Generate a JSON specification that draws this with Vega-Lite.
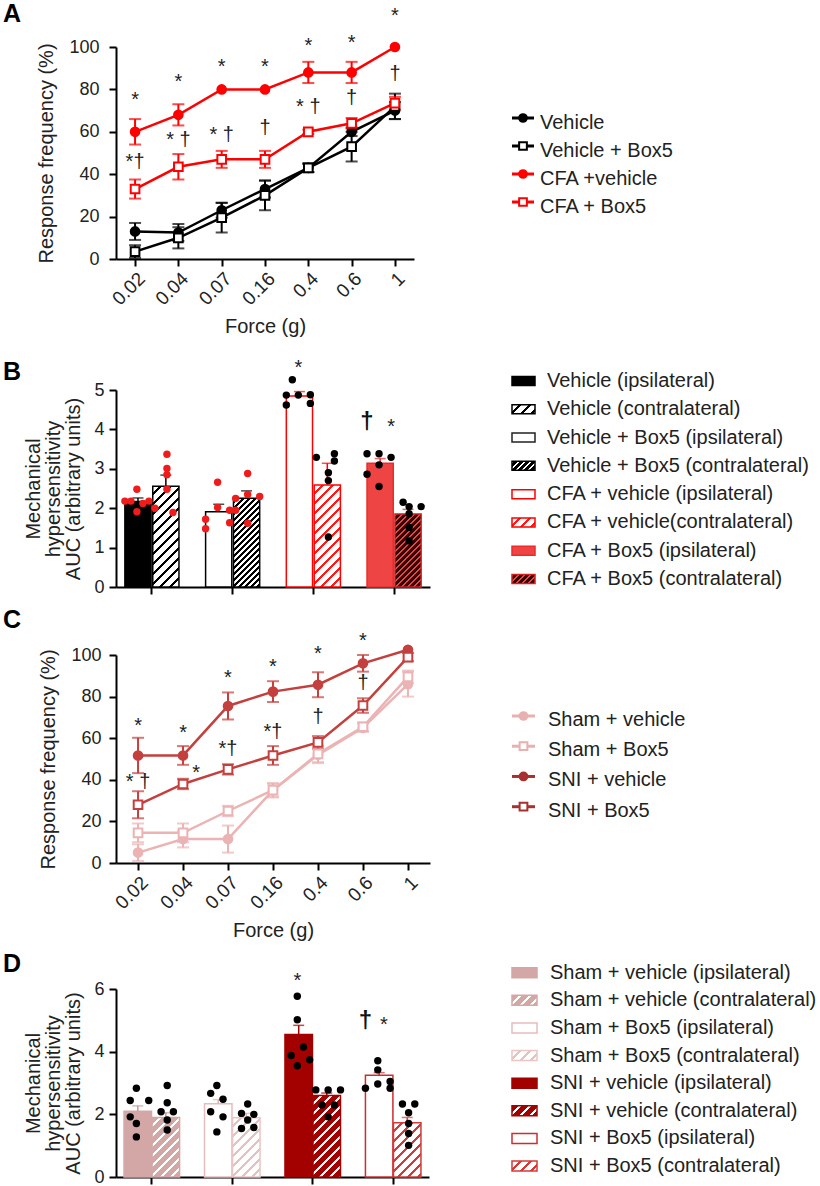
{
"$schema": "https://vega.github.io/schema/vega-lite/v6.json",
"background": "white",
"padding": {"left": 3, "top": 2, "right": 2, "bottom": 0},
"config": {
  "font": "Liberation Sans",
  "view": {"stroke": null},
  "axis": {"grid": false, "domainColor": "#000", "domainWidth": 2, "tickColor": "#000", "tickWidth": 2, "tickSize": 7, "labelFontSize": 18, "labelColor": "#222", "titleFontSize": 20, "titleFontWeight": "normal", "titleColor": "#222"},
  "title": {"fontSize": 25, "fontWeight": "bold", "color": "#000", "anchor": "start", "frame": "group", "offset": 0, "baseline": "alphabetic"}
},
"datasets": {
  "a_series": [
    {"series":"Vehicle","force":"0.02","mean":13,"lo":9,"hi":17},
    {"series":"Vehicle","force":"0.04","mean":12.5,"lo":8.5,"hi":16.5},
    {"series":"Vehicle","force":"0.07","mean":23,"lo":19.5,"hi":26.5},
    {"series":"Vehicle","force":"0.16","mean":33,"lo":29,"hi":37},
    {"series":"Vehicle","force":"0.4","mean":43,"lo":41,"hi":45},
    {"series":"Vehicle","force":"0.6","mean":60,"lo":58,"hi":62},
    {"series":"Vehicle","force":"1","mean":70,"lo":66,"hi":74},
    {"series":"Vehicle + Box5","force":"0.02","mean":3.5,"lo":0.5,"hi":6.5},
    {"series":"Vehicle + Box5","force":"0.04","mean":10,"lo":5,"hi":15},
    {"series":"Vehicle + Box5","force":"0.07","mean":19.5,"lo":12.5,"hi":26.5},
    {"series":"Vehicle + Box5","force":"0.16","mean":30,"lo":23,"hi":37},
    {"series":"Vehicle + Box5","force":"0.4","mean":43,"lo":41,"hi":45},
    {"series":"Vehicle + Box5","force":"0.6","mean":53,"lo":46,"hi":60},
    {"series":"Vehicle + Box5","force":"1","mean":72,"lo":66,"hi":78},
    {"series":"CFA +vehicle","force":"0.02","mean":60,"lo":54,"hi":66},
    {"series":"CFA +vehicle","force":"0.04","mean":68,"lo":63,"hi":73},
    {"series":"CFA +vehicle","force":"0.07","mean":80,"lo":null,"hi":null},
    {"series":"CFA +vehicle","force":"0.16","mean":80,"lo":null,"hi":null},
    {"series":"CFA +vehicle","force":"0.4","mean":88,"lo":83,"hi":93},
    {"series":"CFA +vehicle","force":"0.6","mean":88,"lo":83,"hi":93},
    {"series":"CFA +vehicle","force":"1","mean":100,"lo":null,"hi":null},
    {"series":"CFA + Box5","force":"0.02","mean":33,"lo":28.5,"hi":37.5},
    {"series":"CFA + Box5","force":"0.04","mean":43.5,"lo":37.5,"hi":49.5},
    {"series":"CFA + Box5","force":"0.07","mean":47,"lo":43,"hi":51},
    {"series":"CFA + Box5","force":"0.16","mean":47,"lo":43,"hi":51},
    {"series":"CFA + Box5","force":"0.4","mean":60,"lo":59,"hi":61},
    {"series":"CFA + Box5","force":"0.6","mean":64,"lo":61.5,"hi":66.5},
    {"series":"CFA + Box5","force":"1","mean":73.5,"lo":70.5,"hi":76.5}
  ],
  "a_notes": [
    {"force":"0.02","v":74.8,"label":"*"},
    {"force":"0.04","v":83.7,"label":"*"},
    {"force":"0.07","v":90.8,"label":"*"},
    {"force":"0.16","v":90.8,"label":"*"},
    {"force":"0.4","v":100.4,"label":"*"},
    {"force":"0.6","v":102.1,"label":"*"},
    {"force":"1","v":114.4,"label":"*"},
    {"force":"1","v":87.3,"label":"†"},
    {"force":"0.02","v":45.8,"label":"*†"},
    {"force":"0.04","v":56.1,"label":"* †"},
    {"force":"0.07","v":58.5,"label":"* †"},
    {"force":"0.16","v":61.6,"label":"†"},
    {"force":"0.4","v":71.8,"label":"* †"},
    {"force":"0.6","v":75.8,"label":"†"}
  ],
  "c_series": [
    {"series":"Sham + vehicle","force":"0.02","mean":5,"lo":1,"hi":9},
    {"series":"Sham + vehicle","force":"0.04","mean":11.5,"lo":7.5,"hi":15.5},
    {"series":"Sham + vehicle","force":"0.07","mean":11.5,"lo":5,"hi":18},
    {"series":"Sham + vehicle","force":"0.16","mean":35,"lo":32,"hi":38},
    {"series":"Sham + vehicle","force":"0.4","mean":52,"lo":48,"hi":56},
    {"series":"Sham + vehicle","force":"0.6","mean":65,"lo":63,"hi":67},
    {"series":"Sham + vehicle","force":"1","mean":86,"lo":80,"hi":92},
    {"series":"Sham + Box5","force":"0.02","mean":14.5,"lo":10,"hi":19},
    {"series":"Sham + Box5","force":"0.04","mean":14.5,"lo":10,"hi":19},
    {"series":"Sham + Box5","force":"0.07","mean":25,"lo":22.5,"hi":27.5},
    {"series":"Sham + Box5","force":"0.16","mean":35,"lo":31.5,"hi":38.5},
    {"series":"Sham + Box5","force":"0.4","mean":52.5,"lo":48.5,"hi":56.5},
    {"series":"Sham + Box5","force":"0.6","mean":65.5,"lo":63.5,"hi":67.5},
    {"series":"Sham + Box5","force":"1","mean":89.5,"lo":86.5,"hi":92.5},
    {"series":"SNI + vehicle","force":"0.02","mean":51.7,"lo":43.2,"hi":60.2},
    {"series":"SNI + vehicle","force":"0.04","mean":51.7,"lo":47.2,"hi":56.2},
    {"series":"SNI + vehicle","force":"0.07","mean":75.5,"lo":69,"hi":82},
    {"series":"SNI + vehicle","force":"0.16","mean":82.4,"lo":77.4,"hi":87.4},
    {"series":"SNI + vehicle","force":"0.4","mean":85.7,"lo":79.7,"hi":91.7},
    {"series":"SNI + vehicle","force":"0.6","mean":96,"lo":92,"hi":100},
    {"series":"SNI + vehicle","force":"1","mean":102.5,"lo":null,"hi":null},
    {"series":"SNI + Box5","force":"0.02","mean":28,"lo":21.5,"hi":34.5},
    {"series":"SNI + Box5","force":"0.04","mean":38,"lo":35.5,"hi":40.5},
    {"series":"SNI + Box5","force":"0.07","mean":45,"lo":42.5,"hi":47.5},
    {"series":"SNI + Box5","force":"0.16","mean":51.7,"lo":47.2,"hi":56.2},
    {"series":"SNI + Box5","force":"0.4","mean":58,"lo":55,"hi":61},
    {"series":"SNI + Box5","force":"0.6","mean":75.7,"lo":72.2,"hi":79.2},
    {"series":"SNI + Box5","force":"1","mean":99,"lo":97,"hi":101}
  ],
  "c_notes": [
    {"force":"0.02","v":66,"label":"*"},
    {"force":"0.04","v":62.5,"label":"*"},
    {"force":"0.07","v":89,"label":"*"},
    {"force":"0.16","v":94.1,"label":"*"},
    {"force":"0.4","v":100.5,"label":"*"},
    {"force":"0.6","v":106.5,"label":"*"},
    {"force":"0.02","v":38.9,"label":"* †"},
    {"force":"0.07","v":55,"label":"*†"},
    {"force":"0.16","v":63,"label":"*†"},
    {"force":"0.4","v":70.3,"label":"†"},
    {"force":"0.6","v":86.4,"label":"†"}
  ],
  "b_bars": [
    {"grp":"Vehicle","side":"ipsilateral","bar":"Vehicle (ipsilateral)","mean":2.17,"upper":2.26},
    {"grp":"Vehicle","side":"contralateral","bar":"Vehicle (contralateral)","mean":2.56,"upper":2.84},
    {"grp":"Vehicle + Box5","side":"ipsilateral","bar":"Vehicle + Box5 (ipsilateral)","mean":1.91,"upper":2.1},
    {"grp":"Vehicle + Box5","side":"contralateral","bar":"Vehicle + Box5 (contralateral)","mean":2.25,"upper":2.44},
    {"grp":"CFA + vehicle","side":"ipsilateral","bar":"CFA + vehicle (ipsilateral)","mean":4.85,"upper":4.96},
    {"grp":"CFA + vehicle","side":"contralateral","bar":"CFA + vehicle(contralateral)","mean":2.59,"upper":3.14},
    {"grp":"CFA + Box5","side":"ipsilateral","bar":"CFA + Box5 (ipsilateral)","mean":3.14,"upper":3.26},
    {"grp":"CFA + Box5","side":"contralateral","bar":"CFA + Box5 (contralateral)","mean":1.85,"upper":1.97}
  ],
  "b_dots": [
    {"grp":"Vehicle","slot":"i3","v":2.48},{"grp":"Vehicle","slot":"i1","v":2.18},{"grp":"Vehicle","slot":"i2","v":2.18},
    {"grp":"Vehicle","slot":"i5","v":2.18},{"grp":"Vehicle","slot":"i4","v":2.12},{"grp":"Vehicle","slot":"i3","v":1.91},
    {"grp":"Vehicle","slot":"c3","v":3.37},{"grp":"Vehicle","slot":"c3","v":3.01},{"grp":"Vehicle","slot":"c3","v":2.85},
    {"grp":"Vehicle","slot":"c3","v":2.48},{"grp":"Vehicle","slot":"c1","v":2.0},{"grp":"Vehicle","slot":"c4","v":1.89},
    {"grp":"Vehicle + Box5","slot":"i3","v":2.66},{"grp":"Vehicle + Box5","slot":"i5","v":1.95},{"grp":"Vehicle + Box5","slot":"i1","v":1.72},
    {"grp":"Vehicle + Box5","slot":"i5","v":1.63},{"grp":"Vehicle + Box5","slot":"i1","v":1.48},{"grp":"Vehicle + Box5","slot":"i3","v":2.02},
    {"grp":"Vehicle + Box5","slot":"c3","v":2.88},{"grp":"Vehicle + Box5","slot":"c5","v":2.3},{"grp":"Vehicle + Box5","slot":"c1","v":2.25},
    {"grp":"Vehicle + Box5","slot":"c1","v":1.95},{"grp":"Vehicle + Box5","slot":"c3","v":1.62},{"grp":"Vehicle + Box5","slot":"c3","v":2.35},
    {"grp":"CFA + vehicle","slot":"i2","v":5.26},{"grp":"CFA + vehicle","slot":"i1","v":4.87},{"grp":"CFA + vehicle","slot":"i3","v":4.87},
    {"grp":"CFA + vehicle","slot":"i5","v":4.88},{"grp":"CFA + vehicle","slot":"i1","v":4.62},{"grp":"CFA + vehicle","slot":"i5","v":4.66},
    {"grp":"CFA + vehicle","slot":"c1","v":3.29},{"grp":"CFA + vehicle","slot":"c4","v":3.38},{"grp":"CFA + vehicle","slot":"c4","v":3.2},
    {"grp":"CFA + vehicle","slot":"c3","v":2.9},{"grp":"CFA + vehicle","slot":"c3","v":2.7},{"grp":"CFA + vehicle","slot":"c3","v":1.27},
    {"grp":"CFA + Box5","slot":"i1","v":3.38},{"grp":"CFA + Box5","slot":"i3","v":3.38},{"grp":"CFA + Box5","slot":"i5","v":3.29},
    {"grp":"CFA + Box5","slot":"i3","v":3.1},{"grp":"CFA + Box5","slot":"i1","v":2.86},{"grp":"CFA + Box5","slot":"i3","v":2.55},
    {"grp":"CFA + Box5","slot":"c2","v":2.15},{"grp":"CFA + Box5","slot":"c3","v":2.04},{"grp":"CFA + Box5","slot":"c5","v":2.04},
    {"grp":"CFA + Box5","slot":"c3","v":1.86},{"grp":"CFA + Box5","slot":"c3","v":1.51},{"grp":"CFA + Box5","slot":"c3","v":1.17}
  ],
  "b_notes": [
    {"grp":"CFA + vehicle","slot":"i3","v":5.57,"label":"*"},
    {"grp":"CFA + Box5","slot":"i5","v":4.07,"label":"*"},
    {"grp":"CFA + Box5","slot":"i1","v":4.18,"label":"†"}
  ],
  "d_bars": [
    {"grp":"Sham + vehicle","side":"ipsilateral","bar":"Sham + vehicle (ipsilateral)","mean":2.1,"upper":2.27},
    {"grp":"Sham + vehicle","side":"contralateral","bar":"Sham + vehicle (contralateral)","mean":1.9,"upper":2.05},
    {"grp":"Sham + Box5","side":"ipsilateral","bar":"Sham + Box5 (ipsilateral)","mean":2.34,"upper":2.47},
    {"grp":"Sham + Box5","side":"contralateral","bar":"Sham + Box5 (contralateral)","mean":1.89,"upper":2.03},
    {"grp":"SNI + vehicle","side":"ipsilateral","bar":"SNI + vehicle (ipsilateral)","mean":4.55,"upper":4.84},
    {"grp":"SNI + vehicle","side":"contralateral","bar":"SNI + vehicle (contralateral)","mean":2.6,"upper":2.68},
    {"grp":"SNI + Box5","side":"ipsilateral","bar":"SNI + Box5 (ipsilateral)","mean":3.25,"upper":3.33},
    {"grp":"SNI + Box5","side":"contralateral","bar":"SNI + Box5 (contralateral)","mean":1.73,"upper":1.9}
  ],
  "d_dots": [
    {"grp":"Sham + vehicle","slot":"i3","v":2.83},{"grp":"Sham + vehicle","slot":"i2","v":2.44},{"grp":"Sham + vehicle","slot":"i5","v":2.44},
    {"grp":"Sham + vehicle","slot":"i2","v":1.92},{"grp":"Sham + vehicle","slot":"i3","v":1.71},{"grp":"Sham + vehicle","slot":"i3","v":1.28},
    {"grp":"Sham + vehicle","slot":"c3","v":2.92},{"grp":"Sham + vehicle","slot":"c3","v":2.37},{"grp":"Sham + vehicle","slot":"c2","v":2.08},
    {"grp":"Sham + vehicle","slot":"c4","v":2.08},{"grp":"Sham + vehicle","slot":"c3","v":1.82},{"grp":"Sham + vehicle","slot":"c3","v":1.5},
    {"grp":"Sham + Box5","slot":"i3","v":2.92},{"grp":"Sham + Box5","slot":"i2","v":2.67},{"grp":"Sham + Box5","slot":"i4","v":2.48},
    {"grp":"Sham + Box5","slot":"i2","v":2.08},{"grp":"Sham + Box5","slot":"i4","v":1.92},{"grp":"Sham + Box5","slot":"i3","v":1.44},
    {"grp":"Sham + Box5","slot":"c3","v":2.33},{"grp":"Sham + Box5","slot":"c2","v":2.03},{"grp":"Sham + Box5","slot":"c4","v":2.0},
    {"grp":"Sham + Box5","slot":"c3","v":1.82},{"grp":"Sham + Box5","slot":"c2","v":1.55},{"grp":"Sham + Box5","slot":"c4","v":1.58},
    {"grp":"SNI + vehicle","slot":"i3","v":5.77},{"grp":"SNI + vehicle","slot":"i3","v":5.02},{"grp":"SNI + vehicle","slot":"i4","v":4.15},
    {"grp":"SNI + vehicle","slot":"i2","v":3.88},{"grp":"SNI + vehicle","slot":"i5","v":3.74},{"grp":"SNI + vehicle","slot":"i3","v":3.55},
    {"grp":"SNI + vehicle","slot":"c1","v":2.78},{"grp":"SNI + vehicle","slot":"c3","v":2.78},{"grp":"SNI + vehicle","slot":"c5","v":2.78},
    {"grp":"SNI + vehicle","slot":"c2","v":2.3},{"grp":"SNI + vehicle","slot":"c4","v":2.3},{"grp":"SNI + vehicle","slot":"c3","v":1.92},
    {"grp":"SNI + Box5","slot":"i3","v":3.71},{"grp":"SNI + Box5","slot":"i3","v":3.42},{"grp":"SNI + Box5","slot":"i3","v":2.97},
    {"grp":"SNI + Box5","slot":"i1","v":2.83},{"grp":"SNI + Box5","slot":"i5","v":2.83},{"grp":"SNI + Box5","slot":"i5","v":3.05},
    {"grp":"SNI + Box5","slot":"c2","v":2.33},{"grp":"SNI + Box5","slot":"c4","v":2.33},{"grp":"SNI + Box5","slot":"c3","v":2.05},
    {"grp":"SNI + Box5","slot":"c3","v":1.71},{"grp":"SNI + Box5","slot":"c3","v":1.39},{"grp":"SNI + Box5","slot":"c3","v":1.01}
  ],
  "d_notes": [
    {"grp":"SNI + vehicle","slot":"i3","v":6.26,"label":"*"},
    {"grp":"SNI + Box5","slot":"i4","v":4.85,"label":"*"},
    {"grp":"SNI + Box5","slot":"i1","v":4.97,"label":"†"}
  ],
  "leg_a": [{"label":" Vehicle"},{"label":" Vehicle + Box5"},{"label":"CFA +vehicle"},{"label":"CFA + Box5"}],
  "leg_b": [{"label":"Vehicle (ipsilateral)"},{"label":"Vehicle (contralateral)"},{"label":"Vehicle + Box5 (ipsilateral)"},{"label":"Vehicle + Box5 (contralateral)"},{"label":"CFA + vehicle (ipsilateral)"},{"label":"CFA + vehicle(contralateral)"},{"label":"CFA + Box5 (ipsilateral)"},{"label":"CFA + Box5 (contralateral)"}],
  "leg_c": [{"label":"Sham + vehicle"},{"label":"Sham + Box5"},{"label":"SNI + vehicle"},{"label":"SNI + Box5"}],
  "leg_d": [{"label":"Sham + vehicle (ipsilateral)"},{"label":"Sham + vehicle (contralateral)"},{"label":"Sham + Box5 (ipsilateral)"},{"label":"Sham + Box5 (contralateral)"},{"label":"SNI + vehicle (ipsilateral)"},{"label":"SNI + vehicle (contralateral)"},{"label":"SNI + Box5 (ipsilateral)"},{"label":"SNI + Box5 (contralateral)"}]
},
"concat": [
  {
    "title": {"text": "A", "dx": -113, "dy": 25},
    "width": 298, "height": 212,
    "encoding": {"x": {"field": "force", "type": "ordinal", "sort": ["0.02","0.04","0.07","0.16","0.4","0.6","1"], "scale": {"type": "point", "padding": 0.44}, "axis": {"title": "Force (g)", "labelAngle": -45, "labelFontSize": 19, "labelPadding": 3, "titlePadding": 8}}},
    "layer": [
      {"data": {"name": "a_series"}, "mark": {"type": "rule", "strokeWidth": 2},
       "encoding": {"y": {"field": "lo", "type": "quantitative", "scale": {"domain": [0, 100], "nice": false}, "axis": {"title": "Response frequency (%)", "values": [0,20,40,60,80,100], "labelPadding": 10, "titlePadding": 12}}, "y2": {"field": "hi"},
         "color": {"field": "series", "type": "nominal", "scale": {"domain": ["Vehicle","Vehicle + Box5","CFA +vehicle","CFA + Box5"], "range": ["#000","#000","#ff0000","#ff0000"]}, "legend": null}}},
      {"data": {"name": "a_series"}, "mark": {"type": "tick", "thickness": 2, "size": 12},
       "encoding": {"y": {"field": "lo", "type": "quantitative", "scale": {"domain": [0, 100], "nice": false}, "axis": {"title": "Response frequency (%)", "values": [0,20,40,60,80,100], "labelPadding": 10, "titlePadding": 12}},
         "color": {"field": "series", "type": "nominal", "scale": {"domain": ["Vehicle","Vehicle + Box5","CFA +vehicle","CFA + Box5"], "range": ["#000","#000","#ff0000","#ff0000"]}, "legend": null}}},
      {"data": {"name": "a_series"}, "mark": {"type": "tick", "thickness": 2, "size": 12},
       "encoding": {"y": {"field": "hi", "type": "quantitative", "scale": {"domain": [0, 100], "nice": false}, "axis": {"title": "Response frequency (%)", "values": [0,20,40,60,80,100], "labelPadding": 10, "titlePadding": 12}},
         "color": {"field": "series", "type": "nominal", "scale": {"domain": ["Vehicle","Vehicle + Box5","CFA +vehicle","CFA + Box5"], "range": ["#000","#000","#ff0000","#ff0000"]}, "legend": null}}},
      {"data": {"name": "a_series"}, "mark": {"type": "line", "strokeWidth": 2.5},
       "encoding": {"y": {"field": "mean", "type": "quantitative", "scale": {"domain": [0, 100], "nice": false}, "axis": {"title": "Response frequency (%)", "values": [0,20,40,60,80,100], "labelPadding": 10, "titlePadding": 12}},
         "color": {"field": "series", "type": "nominal", "scale": {"domain": ["Vehicle","Vehicle + Box5","CFA +vehicle","CFA + Box5"], "range": ["#000","#000","#ff0000","#ff0000"]}, "legend": null}}},
      {"data": {"name": "a_series"}, "mark": {"type": "point", "filled": true, "size": 75, "strokeWidth": 2, "opacity": 1},
       "encoding": {"y": {"field": "mean", "type": "quantitative", "scale": {"domain": [0, 100], "nice": false}, "axis": {"title": "Response frequency (%)", "values": [0,20,40,60,80,100], "labelPadding": 10, "titlePadding": 12}},
         "shape": {"field": "series", "type": "nominal", "scale": {"domain": ["Vehicle","Vehicle + Box5","CFA +vehicle","CFA + Box5"], "range": ["circle","square","circle","square"]}, "legend": null},
         "fill": {"field": "series", "type": "nominal", "scale": {"domain": ["Vehicle","Vehicle + Box5","CFA +vehicle","CFA + Box5"], "range": ["#000","#fff","#ff0000","#fff"]}, "legend": null},
         "stroke": {"field": "series", "type": "nominal", "scale": {"domain": ["Vehicle","Vehicle + Box5","CFA +vehicle","CFA + Box5"], "range": ["#000","#000","#ff0000","#ff0000"]}, "legend": null}}},
      {"data": {"name": "a_notes"}, "mark": {"type": "text", "fontSize": 20, "baseline": "middle", "color": "#222"},
       "encoding": {"y": {"field": "v", "type": "quantitative", "scale": {"domain": [0, 100], "nice": false}, "axis": {"title": "Response frequency (%)", "values": [0,20,40,60,80,100], "labelPadding": 10, "titlePadding": 12}}, "text": {"field": "label"}}}
    ]
  },
  {
    "width": 300, "height": 275,
    "data": {"name": "leg_a"},
    "encoding": {"y": {"field": "label", "type": "nominal", "sort": null, "scale": {"type": "point", "range": [71, 155], "padding": 0}, "axis": null}},
    "layer": [
      {"mark": {"type": "rule", "strokeWidth": 3},
       "encoding": {"x": {"datum": 0, "type": "quantitative", "scale": {"domain": [0, 300]}, "axis": null}, "x2": {"datum": 22},
         "color": {"field": "label", "type": "nominal", "scale": {"domain": [" Vehicle"," Vehicle + Box5","CFA +vehicle","CFA + Box5"], "range": ["#000","#000","#ff0000","#ff0000"]}, "legend": null}}},
      {"mark": {"type": "point", "filled": true, "size": 60, "strokeWidth": 2, "opacity": 1},
       "encoding": {"x": {"datum": 11, "type": "quantitative"},
         "shape": {"field": "label", "type": "nominal", "scale": {"domain": [" Vehicle"," Vehicle + Box5","CFA +vehicle","CFA + Box5"], "range": ["circle","square","circle","square"]}, "legend": null},
         "fill": {"field": "label", "type": "nominal", "scale": {"domain": [" Vehicle"," Vehicle + Box5","CFA +vehicle","CFA + Box5"], "range": ["#000","#fff","#ff0000","#fff"]}, "legend": null},
         "stroke": {"field": "label", "type": "nominal", "scale": {"domain": [" Vehicle"," Vehicle + Box5","CFA +vehicle","CFA + Box5"], "range": ["#000","#000","#ff0000","#ff0000"]}, "legend": null}}},
      {"mark": {"type": "text", "align": "left", "baseline": "middle", "fontSize": 20, "color": "#222", "dy": 5},
       "encoding": {"x": {"datum": 28, "type": "quantitative"}, "text": {"field": "label"}}}
    ]
  },
  {
    "title": {"text": "B", "dx": -113, "dy": 31},
    "width": 314, "height": 197,
    "encoding": {"x": {"field": "grp", "type": "nominal", "sort": ["Vehicle","Vehicle + Box5","CFA + vehicle","CFA + Box5"], "scale": {"paddingInner": 0.33, "paddingOuter": 0.11}, "axis": {"title": null, "labels": false}}},
    "resolve": {"scale": {"xOffset": "independent"}},
    "layer": [
      {"data": {"name": "b_bars"}, "mark": {"type": "bar", "strokeWidth": 1.5},
       "encoding": {
         "xOffset": {"field": "side", "type": "nominal", "sort": ["ipsilateral","contralateral"], "scale": {"paddingInner": 0.06, "paddingOuter": 0}},
         "y": {"field": "mean", "type": "quantitative", "stack": null, "scale": {"domain": [0, 5], "nice": false}, "axis": {"title": ["Mechanical","hypersensitivity","AUC (arbitrary units)"], "values": [0,1,2,3,4,5], "tickCount": 6, "labelOverlap": false, "titleLineHeight": 20, "labelPadding": 5, "titlePadding": 10}},
         "fill": {"field": "bar", "type": "nominal", "legend": null,
           "scale": {"domain": ["Vehicle (ipsilateral)","Vehicle (contralateral)","Vehicle + Box5 (ipsilateral)","Vehicle + Box5 (contralateral)","CFA + vehicle (ipsilateral)","CFA + vehicle(contralateral)","CFA + Box5 (ipsilateral)","CFA + Box5 (contralateral)"], "range": ["#000","#fff","#fff","#555","#fff","#fff","#ef4444","#b03030"]},
           "condition": [
             {"test": "datum.bar === 'Vehicle (contralateral)'", "value": {"gradient": "linear", "x1": 0, "y1": 0, "x2": 0.482, "y2": 1.857, "stops": [{"offset":0,"color":"#fff"},{"offset":0.035,"color":"#fff"},{"offset":0.035,"color":"#000"},{"offset":0.05,"color":"#000"},{"offset":0.05,"color":"#fff"},{"offset":0.085,"color":"#fff"},{"offset":0.085,"color":"#000"},{"offset":0.1,"color":"#000"},{"offset":0.1,"color":"#fff"},{"offset":0.135,"color":"#fff"},{"offset":0.135,"color":"#000"},{"offset":0.15,"color":"#000"},{"offset":0.15,"color":"#fff"},{"offset":0.185,"color":"#fff"},{"offset":0.185,"color":"#000"},{"offset":0.2,"color":"#000"},{"offset":0.2,"color":"#fff"},{"offset":0.235,"color":"#fff"},{"offset":0.235,"color":"#000"},{"offset":0.25,"color":"#000"},{"offset":0.25,"color":"#fff"},{"offset":0.285,"color":"#fff"},{"offset":0.285,"color":"#000"},{"offset":0.3,"color":"#000"},{"offset":0.3,"color":"#fff"},{"offset":0.335,"color":"#fff"},{"offset":0.335,"color":"#000"},{"offset":0.35,"color":"#000"},{"offset":0.35,"color":"#fff"},{"offset":0.385,"color":"#fff"},{"offset":0.385,"color":"#000"},{"offset":0.4,"color":"#000"},{"offset":0.4,"color":"#fff"},{"offset":0.435,"color":"#fff"},{"offset":0.435,"color":"#000"},{"offset":0.45,"color":"#000"},{"offset":0.45,"color":"#fff"},{"offset":0.485,"color":"#fff"},{"offset":0.485,"color":"#000"},{"offset":0.5,"color":"#000"},{"offset":0.5,"color":"#fff"},{"offset":0.535,"color":"#fff"},{"offset":0.535,"color":"#000"},{"offset":0.55,"color":"#000"},{"offset":0.55,"color":"#fff"},{"offset":0.585,"color":"#fff"},{"offset":0.585,"color":"#000"},{"offset":0.6,"color":"#000"},{"offset":0.6,"color":"#fff"},{"offset":0.635,"color":"#fff"},{"offset":0.635,"color":"#000"},{"offset":0.65,"color":"#000"},{"offset":0.65,"color":"#fff"},{"offset":1,"color":"#fff"}]}},
             {"test": "datum.bar === 'Vehicle + Box5 (contralateral)'", "value": {"gradient": "linear", "x1": 0, "y1": 0, "x2": 0.368, "y2": 1.245, "stops": [{"offset":0,"color":"#fff"},{"offset":0.02,"color":"#fff"},{"offset":0.02,"color":"#000"},{"offset":0.05,"color":"#000"},{"offset":0.05,"color":"#fff"},{"offset":0.07,"color":"#fff"},{"offset":0.07,"color":"#000"},{"offset":0.1,"color":"#000"},{"offset":0.1,"color":"#fff"},{"offset":0.12,"color":"#fff"},{"offset":0.12,"color":"#000"},{"offset":0.15,"color":"#000"},{"offset":0.15,"color":"#fff"},{"offset":0.17,"color":"#fff"},{"offset":0.17,"color":"#000"},{"offset":0.2,"color":"#000"},{"offset":0.2,"color":"#fff"},{"offset":0.22,"color":"#fff"},{"offset":0.22,"color":"#000"},{"offset":0.25,"color":"#000"},{"offset":0.25,"color":"#fff"},{"offset":0.27,"color":"#fff"},{"offset":0.27,"color":"#000"},{"offset":0.3,"color":"#000"},{"offset":0.3,"color":"#fff"},{"offset":0.32,"color":"#fff"},{"offset":0.32,"color":"#000"},{"offset":0.35,"color":"#000"},{"offset":0.35,"color":"#fff"},{"offset":0.37,"color":"#fff"},{"offset":0.37,"color":"#000"},{"offset":0.4,"color":"#000"},{"offset":0.4,"color":"#fff"},{"offset":0.42,"color":"#fff"},{"offset":0.42,"color":"#000"},{"offset":0.45,"color":"#000"},{"offset":0.45,"color":"#fff"},{"offset":0.47,"color":"#fff"},{"offset":0.47,"color":"#000"},{"offset":0.5,"color":"#000"},{"offset":0.5,"color":"#fff"},{"offset":0.52,"color":"#fff"},{"offset":0.52,"color":"#000"},{"offset":0.55,"color":"#000"},{"offset":0.55,"color":"#fff"},{"offset":0.57,"color":"#fff"},{"offset":0.57,"color":"#000"},{"offset":0.6,"color":"#000"},{"offset":0.6,"color":"#fff"},{"offset":0.62,"color":"#fff"},{"offset":0.62,"color":"#000"},{"offset":0.65,"color":"#000"},{"offset":0.65,"color":"#fff"},{"offset":0.67,"color":"#fff"},{"offset":0.67,"color":"#000"},{"offset":0.7,"color":"#000"},{"offset":0.7,"color":"#fff"},{"offset":0.72,"color":"#fff"},{"offset":0.72,"color":"#000"},{"offset":0.75,"color":"#000"},{"offset":0.75,"color":"#fff"},{"offset":0.77,"color":"#fff"},{"offset":0.77,"color":"#000"},{"offset":0.8,"color":"#000"},{"offset":0.8,"color":"#fff"},{"offset":0.82,"color":"#fff"},{"offset":0.82,"color":"#000"},{"offset":0.85,"color":"#000"},{"offset":0.85,"color":"#fff"},{"offset":0.87,"color":"#fff"},{"offset":0.87,"color":"#000"},{"offset":0.9,"color":"#000"},{"offset":0.9,"color":"#fff"},{"offset":0.92,"color":"#fff"},{"offset":0.92,"color":"#000"},{"offset":0.95,"color":"#000"},{"offset":0.95,"color":"#fff"},{"offset":0.97,"color":"#fff"},{"offset":0.97,"color":"#000"},{"offset":1,"color":"#000"}]}},
             {"test": "datum.bar === 'CFA + vehicle(contralateral)'", "value": {"gradient": "linear", "x1": 0, "y1": 0, "x2": 0.4725, "y2": 1.8395, "stops": [{"offset":0,"color":"#fff"},{"offset":0.035,"color":"#fff"},{"offset":0.035,"color":"#ff1a1a"},{"offset":0.05,"color":"#ff1a1a"},{"offset":0.05,"color":"#fff"},{"offset":0.085,"color":"#fff"},{"offset":0.085,"color":"#ff1a1a"},{"offset":0.1,"color":"#ff1a1a"},{"offset":0.1,"color":"#fff"},{"offset":0.135,"color":"#fff"},{"offset":0.135,"color":"#ff1a1a"},{"offset":0.15,"color":"#ff1a1a"},{"offset":0.15,"color":"#fff"},{"offset":0.185,"color":"#fff"},{"offset":0.185,"color":"#ff1a1a"},{"offset":0.2,"color":"#ff1a1a"},{"offset":0.2,"color":"#fff"},{"offset":0.235,"color":"#fff"},{"offset":0.235,"color":"#ff1a1a"},{"offset":0.25,"color":"#ff1a1a"},{"offset":0.25,"color":"#fff"},{"offset":0.285,"color":"#fff"},{"offset":0.285,"color":"#ff1a1a"},{"offset":0.3,"color":"#ff1a1a"},{"offset":0.3,"color":"#fff"},{"offset":0.335,"color":"#fff"},{"offset":0.335,"color":"#ff1a1a"},{"offset":0.35,"color":"#ff1a1a"},{"offset":0.35,"color":"#fff"},{"offset":0.385,"color":"#fff"},{"offset":0.385,"color":"#ff1a1a"},{"offset":0.4,"color":"#ff1a1a"},{"offset":0.4,"color":"#fff"},{"offset":0.435,"color":"#fff"},{"offset":0.435,"color":"#ff1a1a"},{"offset":0.45,"color":"#ff1a1a"},{"offset":0.45,"color":"#fff"},{"offset":0.485,"color":"#fff"},{"offset":0.485,"color":"#ff1a1a"},{"offset":0.5,"color":"#ff1a1a"},{"offset":0.5,"color":"#fff"},{"offset":0.535,"color":"#fff"},{"offset":0.535,"color":"#ff1a1a"},{"offset":0.55,"color":"#ff1a1a"},{"offset":0.55,"color":"#fff"},{"offset":0.585,"color":"#fff"},{"offset":0.585,"color":"#ff1a1a"},{"offset":0.6,"color":"#ff1a1a"},{"offset":0.6,"color":"#fff"},{"offset":0.635,"color":"#fff"},{"offset":0.635,"color":"#ff1a1a"},{"offset":0.65,"color":"#ff1a1a"},{"offset":0.65,"color":"#fff"},{"offset":1,"color":"#fff"}]}},
             {"test": "datum.bar === 'CFA + Box5 (contralateral)'", "value": {"gradient": "linear", "x1": 0, "y1": 0, "x2": 0.524, "y2": 1.458, "stops": [{"offset":0,"color":"#ef4444"},{"offset":0.02,"color":"#ef4444"},{"offset":0.02,"color":"#300"},{"offset":0.05,"color":"#300"},{"offset":0.05,"color":"#ef4444"},{"offset":0.07,"color":"#ef4444"},{"offset":0.07,"color":"#300"},{"offset":0.1,"color":"#300"},{"offset":0.1,"color":"#ef4444"},{"offset":0.12,"color":"#ef4444"},{"offset":0.12,"color":"#300"},{"offset":0.15,"color":"#300"},{"offset":0.15,"color":"#ef4444"},{"offset":0.17,"color":"#ef4444"},{"offset":0.17,"color":"#300"},{"offset":0.2,"color":"#300"},{"offset":0.2,"color":"#ef4444"},{"offset":0.22,"color":"#ef4444"},{"offset":0.22,"color":"#300"},{"offset":0.25,"color":"#300"},{"offset":0.25,"color":"#ef4444"},{"offset":0.27,"color":"#ef4444"},{"offset":0.27,"color":"#300"},{"offset":0.3,"color":"#300"},{"offset":0.3,"color":"#ef4444"},{"offset":0.32,"color":"#ef4444"},{"offset":0.32,"color":"#300"},{"offset":0.35,"color":"#300"},{"offset":0.35,"color":"#ef4444"},{"offset":0.37,"color":"#ef4444"},{"offset":0.37,"color":"#300"},{"offset":0.4,"color":"#300"},{"offset":0.4,"color":"#ef4444"},{"offset":0.42,"color":"#ef4444"},{"offset":0.42,"color":"#300"},{"offset":0.45,"color":"#300"},{"offset":0.45,"color":"#ef4444"},{"offset":0.47,"color":"#ef4444"},{"offset":0.47,"color":"#300"},{"offset":0.5,"color":"#300"},{"offset":0.5,"color":"#ef4444"},{"offset":0.52,"color":"#ef4444"},{"offset":0.52,"color":"#300"},{"offset":0.55,"color":"#300"},{"offset":0.55,"color":"#ef4444"},{"offset":0.57,"color":"#ef4444"},{"offset":0.57,"color":"#300"},{"offset":0.6,"color":"#300"},{"offset":0.6,"color":"#ef4444"},{"offset":0.62,"color":"#ef4444"},{"offset":0.62,"color":"#300"},{"offset":0.65,"color":"#300"},{"offset":0.65,"color":"#ef4444"},{"offset":0.67,"color":"#ef4444"},{"offset":0.67,"color":"#300"},{"offset":0.7,"color":"#300"},{"offset":0.7,"color":"#ef4444"},{"offset":0.72,"color":"#ef4444"},{"offset":0.72,"color":"#300"},{"offset":0.75,"color":"#300"},{"offset":0.75,"color":"#ef4444"},{"offset":0.77,"color":"#ef4444"},{"offset":0.77,"color":"#300"},{"offset":0.8,"color":"#300"},{"offset":0.8,"color":"#ef4444"},{"offset":0.82,"color":"#ef4444"},{"offset":0.82,"color":"#300"},{"offset":0.85,"color":"#300"},{"offset":0.85,"color":"#ef4444"},{"offset":1,"color":"#ef4444"}]}}
           ]},
         "stroke": {"field": "bar", "type": "nominal", "legend": null,
           "scale": {"domain": ["Vehicle (ipsilateral)","Vehicle (contralateral)","Vehicle + Box5 (ipsilateral)","Vehicle + Box5 (contralateral)","CFA + vehicle (ipsilateral)","CFA + vehicle(contralateral)","CFA + Box5 (ipsilateral)","CFA + Box5 (contralateral)"], "range": ["#000","#000","#000","#000","#ff0000","#ff0000","#ee2a2a","#d02020"]}}
       }},
      {"data": {"name": "b_bars"}, "mark": {"type": "rule", "strokeWidth": 1.5},
       "encoding": {
         "xOffset": {"field": "side", "type": "nominal", "sort": ["ipsilateral","contralateral"], "scale": {"paddingInner": 0.06, "paddingOuter": 0}},
         "y": {"field": "mean", "type": "quantitative", "scale": {"domain": [0, 5], "nice": false}, "axis": {"title": ["Mechanical","hypersensitivity","AUC (arbitrary units)"], "values": [0,1,2,3,4,5], "tickCount": 6, "labelOverlap": false, "titleLineHeight": 20, "labelPadding": 5, "titlePadding": 10}}, "y2": {"field": "upper"},
         "color": {"field": "bar", "type": "nominal", "legend": null, "scale": {"domain": ["Vehicle (ipsilateral)","Vehicle (contralateral)","Vehicle + Box5 (ipsilateral)","Vehicle + Box5 (contralateral)","CFA + vehicle (ipsilateral)","CFA + vehicle(contralateral)","CFA + Box5 (ipsilateral)","CFA + Box5 (contralateral)"], "range": ["#000","#000","#000","#000","#ff0000","#ff0000","#ee2a2a","#d02020"]}}}},
      {"data": {"name": "b_bars"}, "mark": {"type": "tick", "thickness": 1.5, "size": 11},
       "encoding": {
         "xOffset": {"field": "side", "type": "nominal", "sort": ["ipsilateral","contralateral"], "scale": {"paddingInner": 0.06, "paddingOuter": 0}},
         "y": {"field": "upper", "type": "quantitative", "scale": {"domain": [0, 5], "nice": false}, "axis": {"title": ["Mechanical","hypersensitivity","AUC (arbitrary units)"], "values": [0,1,2,3,4,5], "tickCount": 6, "labelOverlap": false, "titleLineHeight": 20, "labelPadding": 5, "titlePadding": 10}},
         "color": {"field": "bar", "type": "nominal", "legend": null, "scale": {"domain": ["Vehicle (ipsilateral)","Vehicle (contralateral)","Vehicle + Box5 (ipsilateral)","Vehicle + Box5 (contralateral)","CFA + vehicle (ipsilateral)","CFA + vehicle(contralateral)","CFA + Box5 (ipsilateral)","CFA + Box5 (contralateral)"], "range": ["#000","#000","#000","#000","#ff0000","#ff0000","#ee2a2a","#d02020"]}}}},
      {"data": {"name": "b_dots"}, "mark": {"type": "circle", "size": 55, "opacity": 1},
       "encoding": {
         "xOffset": {"field": "slot", "type": "nominal", "scale": {"domain": ["i1","i2","i3","i4","i5","c1","c2","c3","c4","c5"], "paddingInner": 0, "paddingOuter": 0}},
         "y": {"field": "v", "type": "quantitative", "scale": {"domain": [0, 5], "nice": false}, "axis": {"title": ["Mechanical","hypersensitivity","AUC (arbitrary units)"], "values": [0,1,2,3,4,5], "tickCount": 6, "labelOverlap": false, "titleLineHeight": 20, "labelPadding": 5, "titlePadding": 10}},
         "color": {"condition": {"test": "datum.grp === 'Vehicle' || datum.grp === 'Vehicle + Box5'", "value": "#f01c1c"}, "value": "#000"}}},
      {"data": {"name": "b_notes"}, "transform": [{"filter": "datum.label === '*'"}], "mark": {"type": "text", "fontSize": 20, "baseline": "middle", "color": "#222"},
       "encoding": {
         "xOffset": {"field": "slot", "type": "nominal", "scale": {"domain": ["i1","i2","i3","i4","i5","c1","c2","c3","c4","c5"], "paddingInner": 0, "paddingOuter": 0}},
         "y": {"field": "v", "type": "quantitative", "scale": {"domain": [0, 5], "nice": false}, "axis": {"title": ["Mechanical","hypersensitivity","AUC (arbitrary units)"], "values": [0,1,2,3,4,5], "tickCount": 6, "labelOverlap": false, "titleLineHeight": 20, "labelPadding": 5, "titlePadding": 10}}, "text": {"field": "label"}}},
      {"data": {"name": "b_notes"}, "transform": [{"filter": "datum.label === '†'"}], "mark": {"type": "text", "fontSize": 24, "fontWeight": "bold", "baseline": "middle", "color": "#111"},
       "encoding": {
         "xOffset": {"field": "slot", "type": "nominal", "scale": {"domain": ["i1","i2","i3","i4","i5","c1","c2","c3","c4","c5"], "paddingInner": 0, "paddingOuter": 0}},
         "y": {"field": "v", "type": "quantitative", "scale": {"domain": [0, 5], "nice": false}, "axis": {"title": ["Mechanical","hypersensitivity","AUC (arbitrary units)"], "values": [0,1,2,3,4,5], "tickCount": 6, "labelOverlap": false, "titleLineHeight": 20, "labelPadding": 5, "titlePadding": 10}}, "text": {"field": "label"}}}
    ]
  },
  {
    "width": 300, "height": 197,
    "data": {"name": "leg_b"},
    "encoding": {"y": {"field": "label", "type": "nominal", "sort": null, "scale": {"type": "point", "range": [-9, 189], "padding": 0}, "axis": null}},
    "layer": [
      {"mark": {"type": "bar", "height": 9, "strokeWidth": 1.5},
       "encoding": {"x": {"datum": 0, "type": "quantitative", "scale": {"domain": [0, 300]}, "axis": null}, "x2": {"datum": 23},
         "fill": {"field": "label", "type": "nominal", "legend": null,
           "scale": {"domain": ["Vehicle (ipsilateral)","Vehicle (contralateral)","Vehicle + Box5 (ipsilateral)","Vehicle + Box5 (contralateral)","CFA + vehicle (ipsilateral)","CFA + vehicle(contralateral)","CFA + Box5 (ipsilateral)","CFA + Box5 (contralateral)"], "range": ["#000","#fff","#fff","#555","#fff","#fff","#ef4444","#b03030"]},
           "condition": [
             {"test": "datum.label === 'Vehicle (contralateral)'", "value": {"gradient": "linear", "x1": 0, "y1": 0, "x2": 7.54, "y2": 2.95, "stops": [{"offset":0,"color":"#fff"},{"offset":0.035,"color":"#fff"},{"offset":0.035,"color":"#000"},{"offset":0.05,"color":"#000"},{"offset":0.05,"color":"#fff"},{"offset":0.085,"color":"#fff"},{"offset":0.085,"color":"#000"},{"offset":0.1,"color":"#000"},{"offset":0.1,"color":"#fff"},{"offset":0.135,"color":"#fff"},{"offset":0.135,"color":"#000"},{"offset":0.15,"color":"#000"},{"offset":0.15,"color":"#fff"},{"offset":0.185,"color":"#fff"},{"offset":0.185,"color":"#000"},{"offset":0.2,"color":"#000"},{"offset":0.2,"color":"#fff"},{"offset":1,"color":"#fff"}]}},
             {"test": "datum.label === 'Vehicle + Box5 (contralateral)'", "value": {"gradient": "linear", "x1": 0, "y1": 0, "x2": 4.52, "y2": 1.77, "stops": [{"offset":0,"color":"#fff"},{"offset":0.02,"color":"#fff"},{"offset":0.02,"color":"#000"},{"offset":0.05,"color":"#000"},{"offset":0.05,"color":"#fff"},{"offset":0.07,"color":"#fff"},{"offset":0.07,"color":"#000"},{"offset":0.1,"color":"#000"},{"offset":0.1,"color":"#fff"},{"offset":0.12,"color":"#fff"},{"offset":0.12,"color":"#000"},{"offset":0.15,"color":"#000"},{"offset":0.15,"color":"#fff"},{"offset":0.17,"color":"#fff"},{"offset":0.17,"color":"#000"},{"offset":0.2,"color":"#000"},{"offset":0.2,"color":"#fff"},{"offset":0.22,"color":"#fff"},{"offset":0.22,"color":"#000"},{"offset":0.25,"color":"#000"},{"offset":0.25,"color":"#fff"},{"offset":0.27,"color":"#fff"},{"offset":0.27,"color":"#000"},{"offset":0.3,"color":"#000"},{"offset":0.3,"color":"#fff"},{"offset":1,"color":"#fff"}]}},
             {"test": "datum.label === 'CFA + vehicle(contralateral)'", "value": {"gradient": "linear", "x1": 0, "y1": 0, "x2": 7.54, "y2": 2.95, "stops": [{"offset":0,"color":"#fff"},{"offset":0.035,"color":"#fff"},{"offset":0.035,"color":"#ff1a1a"},{"offset":0.05,"color":"#ff1a1a"},{"offset":0.05,"color":"#fff"},{"offset":0.085,"color":"#fff"},{"offset":0.085,"color":"#ff1a1a"},{"offset":0.1,"color":"#ff1a1a"},{"offset":0.1,"color":"#fff"},{"offset":0.135,"color":"#fff"},{"offset":0.135,"color":"#ff1a1a"},{"offset":0.15,"color":"#ff1a1a"},{"offset":0.15,"color":"#fff"},{"offset":0.185,"color":"#fff"},{"offset":0.185,"color":"#ff1a1a"},{"offset":0.2,"color":"#ff1a1a"},{"offset":0.2,"color":"#fff"},{"offset":1,"color":"#fff"}]}},
             {"test": "datum.label === 'CFA + Box5 (contralateral)'", "value": {"gradient": "linear", "x1": 0, "y1": 0, "x2": 4.52, "y2": 1.77, "stops": [{"offset":0,"color":"#ef4444"},{"offset":0.02,"color":"#ef4444"},{"offset":0.02,"color":"#300"},{"offset":0.05,"color":"#300"},{"offset":0.05,"color":"#ef4444"},{"offset":0.07,"color":"#ef4444"},{"offset":0.07,"color":"#300"},{"offset":0.1,"color":"#300"},{"offset":0.1,"color":"#ef4444"},{"offset":0.12,"color":"#ef4444"},{"offset":0.12,"color":"#300"},{"offset":0.15,"color":"#300"},{"offset":0.15,"color":"#ef4444"},{"offset":0.17,"color":"#ef4444"},{"offset":0.17,"color":"#300"},{"offset":0.2,"color":"#300"},{"offset":0.2,"color":"#ef4444"},{"offset":0.22,"color":"#ef4444"},{"offset":0.22,"color":"#300"},{"offset":0.25,"color":"#300"},{"offset":0.25,"color":"#ef4444"},{"offset":0.27,"color":"#ef4444"},{"offset":0.27,"color":"#300"},{"offset":0.3,"color":"#300"},{"offset":0.3,"color":"#ef4444"},{"offset":1,"color":"#ef4444"}]}}
           ]},
         "stroke": {"field": "label", "type": "nominal", "legend": null,
           "scale": {"domain": ["Vehicle (ipsilateral)","Vehicle (contralateral)","Vehicle + Box5 (ipsilateral)","Vehicle + Box5 (contralateral)","CFA + vehicle (ipsilateral)","CFA + vehicle(contralateral)","CFA + Box5 (ipsilateral)","CFA + Box5 (contralateral)"], "range": ["#000","#000","#222","#000","#ff0000","#ff0000","#ee2a2a","#d02020"]}}}},
      {"mark": {"type": "text", "align": "left", "baseline": "middle", "fontSize": 20, "color": "#222"},
       "encoding": {"x": {"datum": 35, "type": "quantitative"}, "text": {"field": "label"}}}
    ]
  },
  {
    "title": {"text": "C", "dx": -113, "dy": 6},
    "width": 314, "height": 208,
    "encoding": {"x": {"field": "force", "type": "ordinal", "sort": ["0.02","0.04","0.07","0.16","0.4","0.6","1"], "scale": {"type": "point", "padding": 0.49}, "axis": {"title": "Force (g)", "labelAngle": -45, "labelFontSize": 19, "labelPadding": 3, "titlePadding": 8}}},
    "layer": [
      {"data": {"name": "c_series"}, "mark": {"type": "rule", "strokeWidth": 2},
       "encoding": {"y": {"field": "lo", "type": "quantitative", "scale": {"domain": [0, 100], "nice": false}, "axis": {"title": "Response frequency (%)", "values": [0,20,40,60,80,100], "labelPadding": 8, "titlePadding": 12}}, "y2": {"field": "hi"},
         "color": {"field": "series", "type": "nominal", "scale": {"domain": ["Sham + vehicle","Sham + Box5","SNI + vehicle","SNI + Box5"], "range": ["#ebb3b3","#ebb3b3","#c4403e","#c4403e"]}, "legend": null}}},
      {"data": {"name": "c_series"}, "mark": {"type": "tick", "thickness": 2, "size": 12},
       "encoding": {"y": {"field": "lo", "type": "quantitative", "scale": {"domain": [0, 100], "nice": false}, "axis": {"title": "Response frequency (%)", "values": [0,20,40,60,80,100], "labelPadding": 8, "titlePadding": 12}},
         "color": {"field": "series", "type": "nominal", "scale": {"domain": ["Sham + vehicle","Sham + Box5","SNI + vehicle","SNI + Box5"], "range": ["#ebb3b3","#ebb3b3","#c4403e","#c4403e"]}, "legend": null}}},
      {"data": {"name": "c_series"}, "mark": {"type": "tick", "thickness": 2, "size": 12},
       "encoding": {"y": {"field": "hi", "type": "quantitative", "scale": {"domain": [0, 100], "nice": false}, "axis": {"title": "Response frequency (%)", "values": [0,20,40,60,80,100], "labelPadding": 8, "titlePadding": 12}},
         "color": {"field": "series", "type": "nominal", "scale": {"domain": ["Sham + vehicle","Sham + Box5","SNI + vehicle","SNI + Box5"], "range": ["#ebb3b3","#ebb3b3","#c4403e","#c4403e"]}, "legend": null}}},
      {"data": {"name": "c_series"}, "mark": {"type": "line", "strokeWidth": 2.5},
       "encoding": {"y": {"field": "mean", "type": "quantitative", "scale": {"domain": [0, 100], "nice": false}, "axis": {"title": "Response frequency (%)", "values": [0,20,40,60,80,100], "labelPadding": 8, "titlePadding": 12}},
         "color": {"field": "series", "type": "nominal", "scale": {"domain": ["Sham + vehicle","Sham + Box5","SNI + vehicle","SNI + Box5"], "range": ["#ebb3b3","#ebb3b3","#c4403e","#c4403e"]}, "legend": null}}},
      {"data": {"name": "c_series"}, "mark": {"type": "point", "filled": true, "size": 75, "strokeWidth": 2, "opacity": 1},
       "encoding": {"y": {"field": "mean", "type": "quantitative", "scale": {"domain": [0, 100], "nice": false}, "axis": {"title": "Response frequency (%)", "values": [0,20,40,60,80,100], "labelPadding": 8, "titlePadding": 12}},
         "shape": {"field": "series", "type": "nominal", "scale": {"domain": ["Sham + vehicle","Sham + Box5","SNI + vehicle","SNI + Box5"], "range": ["circle","square","circle","square"]}, "legend": null},
         "fill": {"field": "series", "type": "nominal", "scale": {"domain": ["Sham + vehicle","Sham + Box5","SNI + vehicle","SNI + Box5"], "range": ["#ebb3b3","#fff","#c4403e","#fff"]}, "legend": null},
         "stroke": {"field": "series", "type": "nominal", "scale": {"domain": ["Sham + vehicle","Sham + Box5","SNI + vehicle","SNI + Box5"], "range": ["#ebb3b3","#ebb3b3","#c4403e","#c4403e"]}, "legend": null}}},
      {"data": {"name": "c_notes"}, "mark": {"type": "text", "fontSize": 20, "baseline": "middle", "color": "#222"},
       "encoding": {"y": {"field": "v", "type": "quantitative", "scale": {"domain": [0, 100], "nice": false}, "axis": {"title": "Response frequency (%)", "values": [0,20,40,60,80,100], "labelPadding": 8, "titlePadding": 12}}, "text": {"field": "label"}}},
      {"data": {"values": [{"force": "0.04", "v": 43.5, "label": "*"}]}, "mark": {"type": "text", "fontSize": 20, "baseline": "middle", "color": "#222", "dx": 13},
       "encoding": {"y": {"field": "v", "type": "quantitative", "scale": {"domain": [0, 100], "nice": false}, "axis": {"title": "Response frequency (%)", "values": [0,20,40,60,80,100], "labelPadding": 8, "titlePadding": 12}}, "text": {"field": "label"}}}
    ]
  },
  {
    "width": 300, "height": 266,
    "data": {"name": "leg_c"},
    "encoding": {"y": {"field": "label", "type": "nominal", "sort": null, "scale": {"type": "point", "range": [61, 151.7], "padding": 0}, "axis": null}},
    "layer": [
      {"mark": {"type": "rule", "strokeWidth": 3},
       "encoding": {"x": {"datum": 0, "type": "quantitative", "scale": {"domain": [0, 300]}, "axis": null}, "x2": {"datum": 23},
         "color": {"field": "label", "type": "nominal", "scale": {"domain": ["Sham + vehicle","Sham + Box5","SNI + vehicle","SNI + Box5"], "range": ["#e8b0b0","#e8b0b0","#a83030","#a83030"]}, "legend": null}}},
      {"mark": {"type": "point", "filled": true, "size": 60, "strokeWidth": 2, "opacity": 1},
       "encoding": {"x": {"datum": 11.5, "type": "quantitative"},
         "shape": {"field": "label", "type": "nominal", "scale": {"domain": ["Sham + vehicle","Sham + Box5","SNI + vehicle","SNI + Box5"], "range": ["circle","square","circle","square"]}, "legend": null},
         "fill": {"field": "label", "type": "nominal", "scale": {"domain": ["Sham + vehicle","Sham + Box5","SNI + vehicle","SNI + Box5"], "range": ["#e8b0b0","#fff","#a83030","#fff"]}, "legend": null},
         "stroke": {"field": "label", "type": "nominal", "scale": {"domain": ["Sham + vehicle","Sham + Box5","SNI + vehicle","SNI + Box5"], "range": ["#e8b0b0","#e8b0b0","#a83030","#a83030"]}, "legend": null}}},
      {"mark": {"type": "text", "align": "left", "baseline": "middle", "fontSize": 20, "color": "#222", "dy": 4},
       "encoding": {"x": {"datum": 36, "type": "quantitative"}, "text": {"field": "label"}}}
    ]
  },
  {
    "title": {"text": "D", "dx": -113, "dy": 10},
    "width": 313, "height": 188,
    "encoding": {"x": {"field": "grp", "type": "nominal", "sort": ["Sham + vehicle","Sham + Box5","SNI + vehicle","SNI + Box5"], "scale": {"paddingInner": 0.31, "paddingOuter": 0.1}, "axis": {"title": null, "labels": false}}},
    "resolve": {"scale": {"xOffset": "independent"}},
    "layer": [
      {"data": {"name": "d_bars"}, "mark": {"type": "bar", "strokeWidth": 1.5},
       "encoding": {
         "xOffset": {"field": "side", "type": "nominal", "sort": ["ipsilateral","contralateral"], "scale": {"paddingInner": 0.02, "paddingOuter": 0}},
         "y": {"field": "mean", "type": "quantitative", "stack": null, "scale": {"domain": [0, 6], "nice": false}, "axis": {"title": ["Mechanical","hypersensitivity","AUC (arbitrary units)"], "values": [0,2,4,6], "labelOverlap": false, "titleLineHeight": 20, "labelPadding": 5, "titlePadding": 10}},
         "fill": {"field": "bar", "type": "nominal", "legend": null,
           "scale": {"domain": ["Sham + vehicle (ipsilateral)","Sham + vehicle (contralateral)","Sham + Box5 (ipsilateral)","Sham + Box5 (contralateral)","SNI + vehicle (ipsilateral)","SNI + vehicle (contralateral)","SNI + Box5 (ipsilateral)","SNI + Box5 (contralateral)"], "range": ["#d4a7a7","#d4a7a7","#fff","#fff","#a30000","#a30000","#fff","#fff"]},
           "condition": [
             {"test": "datum.bar === 'Sham + vehicle (contralateral)'", "value": {"gradient": "linear", "x1": 0, "y1": 0, "x2": 1.28, "y2": 2.77, "stops": [{"offset":0,"color":"#d4a7a7"},{"offset":0.035,"color":"#d4a7a7"},{"offset":0.035,"color":"#fff"},{"offset":0.05,"color":"#fff"},{"offset":0.05,"color":"#d4a7a7"},{"offset":0.085,"color":"#d4a7a7"},{"offset":0.085,"color":"#fff"},{"offset":0.1,"color":"#fff"},{"offset":0.1,"color":"#d4a7a7"},{"offset":0.135,"color":"#d4a7a7"},{"offset":0.135,"color":"#fff"},{"offset":0.15,"color":"#fff"},{"offset":0.15,"color":"#d4a7a7"},{"offset":0.185,"color":"#d4a7a7"},{"offset":0.185,"color":"#fff"},{"offset":0.2,"color":"#fff"},{"offset":0.2,"color":"#d4a7a7"},{"offset":0.235,"color":"#d4a7a7"},{"offset":0.235,"color":"#fff"},{"offset":0.25,"color":"#fff"},{"offset":0.25,"color":"#d4a7a7"},{"offset":0.285,"color":"#d4a7a7"},{"offset":0.285,"color":"#fff"},{"offset":0.3,"color":"#fff"},{"offset":0.3,"color":"#d4a7a7"},{"offset":0.335,"color":"#d4a7a7"},{"offset":0.335,"color":"#fff"},{"offset":0.35,"color":"#fff"},{"offset":0.35,"color":"#d4a7a7"},{"offset":0.385,"color":"#d4a7a7"},{"offset":0.385,"color":"#fff"},{"offset":0.4,"color":"#fff"},{"offset":0.4,"color":"#d4a7a7"},{"offset":0.435,"color":"#d4a7a7"},{"offset":0.435,"color":"#fff"},{"offset":0.45,"color":"#fff"},{"offset":0.45,"color":"#d4a7a7"},{"offset":0.485,"color":"#d4a7a7"},{"offset":0.485,"color":"#fff"},{"offset":0.5,"color":"#fff"},{"offset":0.5,"color":"#d4a7a7"},{"offset":0.535,"color":"#d4a7a7"},{"offset":0.535,"color":"#fff"},{"offset":0.55,"color":"#fff"},{"offset":0.55,"color":"#d4a7a7"},{"offset":1,"color":"#d4a7a7"}]}},
             {"test": "datum.bar === 'Sham + Box5 (contralateral)'", "value": {"gradient": "linear", "x1": 0, "y1": 0, "x2": 1.291, "y2": 2.779, "stops": [{"offset":0,"color":"#fff"},{"offset":0.035,"color":"#fff"},{"offset":0.035,"color":"#e8c0c0"},{"offset":0.05,"color":"#e8c0c0"},{"offset":0.05,"color":"#fff"},{"offset":0.085,"color":"#fff"},{"offset":0.085,"color":"#e8c0c0"},{"offset":0.1,"color":"#e8c0c0"},{"offset":0.1,"color":"#fff"},{"offset":0.135,"color":"#fff"},{"offset":0.135,"color":"#e8c0c0"},{"offset":0.15,"color":"#e8c0c0"},{"offset":0.15,"color":"#fff"},{"offset":0.185,"color":"#fff"},{"offset":0.185,"color":"#e8c0c0"},{"offset":0.2,"color":"#e8c0c0"},{"offset":0.2,"color":"#fff"},{"offset":0.235,"color":"#fff"},{"offset":0.235,"color":"#e8c0c0"},{"offset":0.25,"color":"#e8c0c0"},{"offset":0.25,"color":"#fff"},{"offset":0.285,"color":"#fff"},{"offset":0.285,"color":"#e8c0c0"},{"offset":0.3,"color":"#e8c0c0"},{"offset":0.3,"color":"#fff"},{"offset":0.335,"color":"#fff"},{"offset":0.335,"color":"#e8c0c0"},{"offset":0.35,"color":"#e8c0c0"},{"offset":0.35,"color":"#fff"},{"offset":0.385,"color":"#fff"},{"offset":0.385,"color":"#e8c0c0"},{"offset":0.4,"color":"#e8c0c0"},{"offset":0.4,"color":"#fff"},{"offset":0.435,"color":"#fff"},{"offset":0.435,"color":"#e8c0c0"},{"offset":0.45,"color":"#e8c0c0"},{"offset":0.45,"color":"#fff"},{"offset":0.485,"color":"#fff"},{"offset":0.485,"color":"#e8c0c0"},{"offset":0.5,"color":"#e8c0c0"},{"offset":0.5,"color":"#fff"},{"offset":0.535,"color":"#fff"},{"offset":0.535,"color":"#e8c0c0"},{"offset":0.55,"color":"#e8c0c0"},{"offset":0.55,"color":"#fff"},{"offset":1,"color":"#fff"}]}},
             {"test": "datum.bar === 'SNI + vehicle (contralateral)'", "value": {"gradient": "linear", "x1": 0, "y1": 0, "x2": 0.743, "y2": 2.203, "stops": [{"offset":0,"color":"#a30000"},{"offset":0.035,"color":"#a30000"},{"offset":0.035,"color":"#fff"},{"offset":0.05,"color":"#fff"},{"offset":0.05,"color":"#a30000"},{"offset":0.085,"color":"#a30000"},{"offset":0.085,"color":"#fff"},{"offset":0.1,"color":"#fff"},{"offset":0.1,"color":"#a30000"},{"offset":0.135,"color":"#a30000"},{"offset":0.135,"color":"#fff"},{"offset":0.15,"color":"#fff"},{"offset":0.15,"color":"#a30000"},{"offset":0.185,"color":"#a30000"},{"offset":0.185,"color":"#fff"},{"offset":0.2,"color":"#fff"},{"offset":0.2,"color":"#a30000"},{"offset":0.235,"color":"#a30000"},{"offset":0.235,"color":"#fff"},{"offset":0.25,"color":"#fff"},{"offset":0.25,"color":"#a30000"},{"offset":0.285,"color":"#a30000"},{"offset":0.285,"color":"#fff"},{"offset":0.3,"color":"#fff"},{"offset":0.3,"color":"#a30000"},{"offset":0.335,"color":"#a30000"},{"offset":0.335,"color":"#fff"},{"offset":0.35,"color":"#fff"},{"offset":0.35,"color":"#a30000"},{"offset":0.385,"color":"#a30000"},{"offset":0.385,"color":"#fff"},{"offset":0.4,"color":"#fff"},{"offset":0.4,"color":"#a30000"},{"offset":0.435,"color":"#a30000"},{"offset":0.435,"color":"#fff"},{"offset":0.45,"color":"#fff"},{"offset":0.45,"color":"#a30000"},{"offset":0.485,"color":"#a30000"},{"offset":0.485,"color":"#fff"},{"offset":0.5,"color":"#fff"},{"offset":0.5,"color":"#a30000"},{"offset":0.535,"color":"#a30000"},{"offset":0.535,"color":"#fff"},{"offset":0.55,"color":"#fff"},{"offset":0.55,"color":"#a30000"},{"offset":1,"color":"#a30000"}]}},
             {"test": "datum.bar === 'SNI + Box5 (contralateral)'", "value": {"gradient": "linear", "x1": 0, "y1": 0, "x2": 1.489, "y2": 2.934, "stops": [{"offset":0,"color":"#fff"},{"offset":0.035,"color":"#fff"},{"offset":0.035,"color":"#d33a3a"},{"offset":0.05,"color":"#d33a3a"},{"offset":0.05,"color":"#fff"},{"offset":0.085,"color":"#fff"},{"offset":0.085,"color":"#d33a3a"},{"offset":0.1,"color":"#d33a3a"},{"offset":0.1,"color":"#fff"},{"offset":0.135,"color":"#fff"},{"offset":0.135,"color":"#d33a3a"},{"offset":0.15,"color":"#d33a3a"},{"offset":0.15,"color":"#fff"},{"offset":0.185,"color":"#fff"},{"offset":0.185,"color":"#d33a3a"},{"offset":0.2,"color":"#d33a3a"},{"offset":0.2,"color":"#fff"},{"offset":0.235,"color":"#fff"},{"offset":0.235,"color":"#d33a3a"},{"offset":0.25,"color":"#d33a3a"},{"offset":0.25,"color":"#fff"},{"offset":0.285,"color":"#fff"},{"offset":0.285,"color":"#d33a3a"},{"offset":0.3,"color":"#d33a3a"},{"offset":0.3,"color":"#fff"},{"offset":0.335,"color":"#fff"},{"offset":0.335,"color":"#d33a3a"},{"offset":0.35,"color":"#d33a3a"},{"offset":0.35,"color":"#fff"},{"offset":0.385,"color":"#fff"},{"offset":0.385,"color":"#d33a3a"},{"offset":0.4,"color":"#d33a3a"},{"offset":0.4,"color":"#fff"},{"offset":0.435,"color":"#fff"},{"offset":0.435,"color":"#d33a3a"},{"offset":0.45,"color":"#d33a3a"},{"offset":0.45,"color":"#fff"},{"offset":0.485,"color":"#fff"},{"offset":0.485,"color":"#d33a3a"},{"offset":0.5,"color":"#d33a3a"},{"offset":0.5,"color":"#fff"},{"offset":0.535,"color":"#fff"},{"offset":0.535,"color":"#d33a3a"},{"offset":0.55,"color":"#d33a3a"},{"offset":0.55,"color":"#fff"},{"offset":1,"color":"#fff"}]}}
           ]},
         "stroke": {"field": "bar", "type": "nominal", "legend": null,
           "scale": {"domain": ["Sham + vehicle (ipsilateral)","Sham + vehicle (contralateral)","Sham + Box5 (ipsilateral)","Sham + Box5 (contralateral)","SNI + vehicle (ipsilateral)","SNI + vehicle (contralateral)","SNI + Box5 (ipsilateral)","SNI + Box5 (contralateral)"], "range": ["#d4a7a7","#d4a7a7","#e6bcbc","#ebc5c5","#a30000","#a30000","#cc2e2e","#d33a3a"]}}
       }},
      {"data": {"name": "d_bars"}, "mark": {"type": "rule", "strokeWidth": 1.5},
       "encoding": {
         "xOffset": {"field": "side", "type": "nominal", "sort": ["ipsilateral","contralateral"], "scale": {"paddingInner": 0.02, "paddingOuter": 0}},
         "y": {"field": "mean", "type": "quantitative", "scale": {"domain": [0, 6], "nice": false}, "axis": {"title": ["Mechanical","hypersensitivity","AUC (arbitrary units)"], "values": [0,2,4,6], "labelOverlap": false, "titleLineHeight": 20, "labelPadding": 5, "titlePadding": 10}}, "y2": {"field": "upper"},
         "color": {"field": "bar", "type": "nominal", "legend": null, "scale": {"domain": ["Sham + vehicle (ipsilateral)","Sham + vehicle (contralateral)","Sham + Box5 (ipsilateral)","Sham + Box5 (contralateral)","SNI + vehicle (ipsilateral)","SNI + vehicle (contralateral)","SNI + Box5 (ipsilateral)","SNI + Box5 (contralateral)"], "range": ["#c99a9a","#c99a9a","#e0b0b0","#e0b0b0","#a30000","#a30000","#cc2e2e","#d33a3a"]}}}},
      {"data": {"name": "d_bars"}, "mark": {"type": "tick", "thickness": 1.5, "size": 11},
       "encoding": {
         "xOffset": {"field": "side", "type": "nominal", "sort": ["ipsilateral","contralateral"], "scale": {"paddingInner": 0.02, "paddingOuter": 0}},
         "y": {"field": "upper", "type": "quantitative", "scale": {"domain": [0, 6], "nice": false}, "axis": {"title": ["Mechanical","hypersensitivity","AUC (arbitrary units)"], "values": [0,2,4,6], "labelOverlap": false, "titleLineHeight": 20, "labelPadding": 5, "titlePadding": 10}},
         "color": {"field": "bar", "type": "nominal", "legend": null, "scale": {"domain": ["Sham + vehicle (ipsilateral)","Sham + vehicle (contralateral)","Sham + Box5 (ipsilateral)","Sham + Box5 (contralateral)","SNI + vehicle (ipsilateral)","SNI + vehicle (contralateral)","SNI + Box5 (ipsilateral)","SNI + Box5 (contralateral)"], "range": ["#c99a9a","#c99a9a","#e0b0b0","#e0b0b0","#a30000","#a30000","#cc2e2e","#d33a3a"]}}}},
      {"data": {"name": "d_dots"}, "mark": {"type": "circle", "size": 55, "opacity": 1, "color": "#000"},
       "encoding": {
         "xOffset": {"field": "slot", "type": "nominal", "scale": {"domain": ["i1","i2","i3","i4","i5","c1","c2","c3","c4","c5"], "paddingInner": 0, "paddingOuter": 0}},
         "y": {"field": "v", "type": "quantitative", "scale": {"domain": [0, 6], "nice": false}, "axis": {"title": ["Mechanical","hypersensitivity","AUC (arbitrary units)"], "values": [0,2,4,6], "labelOverlap": false, "titleLineHeight": 20, "labelPadding": 5, "titlePadding": 10}}}},
      {"data": {"name": "d_notes"}, "transform": [{"filter": "datum.label === '*'"}], "mark": {"type": "text", "fontSize": 20, "baseline": "middle", "color": "#222"},
       "encoding": {
         "xOffset": {"field": "slot", "type": "nominal", "scale": {"domain": ["i1","i2","i3","i4","i5","c1","c2","c3","c4","c5"], "paddingInner": 0, "paddingOuter": 0}},
         "y": {"field": "v", "type": "quantitative", "scale": {"domain": [0, 6], "nice": false}, "axis": {"title": ["Mechanical","hypersensitivity","AUC (arbitrary units)"], "values": [0,2,4,6], "labelOverlap": false, "titleLineHeight": 20, "labelPadding": 5, "titlePadding": 10}}, "text": {"field": "label"}}},
      {"data": {"name": "d_notes"}, "transform": [{"filter": "datum.label === '†'"}], "mark": {"type": "text", "fontSize": 24, "fontWeight": "bold", "baseline": "middle", "color": "#111"},
       "encoding": {
         "xOffset": {"field": "slot", "type": "nominal", "scale": {"domain": ["i1","i2","i3","i4","i5","c1","c2","c3","c4","c5"], "paddingInner": 0, "paddingOuter": 0}},
         "y": {"field": "v", "type": "quantitative", "scale": {"domain": [0, 6], "nice": false}, "axis": {"title": ["Mechanical","hypersensitivity","AUC (arbitrary units)"], "values": [0,2,4,6], "labelOverlap": false, "titleLineHeight": 20, "labelPadding": 5, "titlePadding": 10}}, "text": {"field": "label"}}}
    ]
  },
  {
    "width": 300, "height": 188,
    "data": {"name": "leg_d"},
    "encoding": {"y": {"field": "label", "type": "nominal", "sort": null, "scale": {"type": "point", "range": [-16.3, 177], "padding": 0}, "axis": null}},
    "layer": [
      {"mark": {"type": "bar", "height": 10, "strokeWidth": 1.5},
       "encoding": {"x": {"datum": 0, "type": "quantitative", "scale": {"domain": [0, 300]}, "axis": null}, "x2": {"datum": 25},
         "fill": {"field": "label", "type": "nominal", "legend": null,
           "scale": {"domain": ["Sham + vehicle (ipsilateral)","Sham + vehicle (contralateral)","Sham + Box5 (ipsilateral)","Sham + Box5 (contralateral)","SNI + vehicle (ipsilateral)","SNI + vehicle (contralateral)","SNI + Box5 (ipsilateral)","SNI + Box5 (contralateral)"], "range": ["#d4a7a7","#d4a7a7","#fff","#fff","#a30000","#a30000","#fff","#fff"]},
           "condition": [
             {"test": "datum.label === 'Sham + vehicle (contralateral)'", "value": {"gradient": "linear", "x1": 0, "y1": 0, "x2": 6.9, "y2": 2.76, "stops": [{"offset":0,"color":"#d4a7a7"},{"offset":0.035,"color":"#d4a7a7"},{"offset":0.035,"color":"#fff"},{"offset":0.05,"color":"#fff"},{"offset":0.05,"color":"#d4a7a7"},{"offset":0.085,"color":"#d4a7a7"},{"offset":0.085,"color":"#fff"},{"offset":0.1,"color":"#fff"},{"offset":0.1,"color":"#d4a7a7"},{"offset":0.135,"color":"#d4a7a7"},{"offset":0.135,"color":"#fff"},{"offset":0.15,"color":"#fff"},{"offset":0.15,"color":"#d4a7a7"},{"offset":0.185,"color":"#d4a7a7"},{"offset":0.185,"color":"#fff"},{"offset":0.2,"color":"#fff"},{"offset":0.2,"color":"#d4a7a7"},{"offset":1,"color":"#d4a7a7"}]}},
             {"test": "datum.label === 'Sham + Box5 (contralateral)'", "value": {"gradient": "linear", "x1": 0, "y1": 0, "x2": 6.9, "y2": 2.76, "stops": [{"offset":0,"color":"#fff"},{"offset":0.035,"color":"#fff"},{"offset":0.035,"color":"#e8c0c0"},{"offset":0.05,"color":"#e8c0c0"},{"offset":0.05,"color":"#fff"},{"offset":0.085,"color":"#fff"},{"offset":0.085,"color":"#e8c0c0"},{"offset":0.1,"color":"#e8c0c0"},{"offset":0.1,"color":"#fff"},{"offset":0.135,"color":"#fff"},{"offset":0.135,"color":"#e8c0c0"},{"offset":0.15,"color":"#e8c0c0"},{"offset":0.15,"color":"#fff"},{"offset":0.185,"color":"#fff"},{"offset":0.185,"color":"#e8c0c0"},{"offset":0.2,"color":"#e8c0c0"},{"offset":0.2,"color":"#fff"},{"offset":1,"color":"#fff"}]}},
             {"test": "datum.label === 'SNI + vehicle (contralateral)'", "value": {"gradient": "linear", "x1": 0, "y1": 0, "x2": 6.9, "y2": 2.76, "stops": [{"offset":0,"color":"#a30000"},{"offset":0.035,"color":"#a30000"},{"offset":0.035,"color":"#fff"},{"offset":0.05,"color":"#fff"},{"offset":0.05,"color":"#a30000"},{"offset":0.085,"color":"#a30000"},{"offset":0.085,"color":"#fff"},{"offset":0.1,"color":"#fff"},{"offset":0.1,"color":"#a30000"},{"offset":0.135,"color":"#a30000"},{"offset":0.135,"color":"#fff"},{"offset":0.15,"color":"#fff"},{"offset":0.15,"color":"#a30000"},{"offset":0.185,"color":"#a30000"},{"offset":0.185,"color":"#fff"},{"offset":0.2,"color":"#fff"},{"offset":0.2,"color":"#a30000"},{"offset":1,"color":"#a30000"}]}},
             {"test": "datum.label === 'SNI + Box5 (contralateral)'", "value": {"gradient": "linear", "x1": 0, "y1": 0, "x2": 6.9, "y2": 2.76, "stops": [{"offset":0,"color":"#fff"},{"offset":0.035,"color":"#fff"},{"offset":0.035,"color":"#d33a3a"},{"offset":0.05,"color":"#d33a3a"},{"offset":0.05,"color":"#fff"},{"offset":0.085,"color":"#fff"},{"offset":0.085,"color":"#d33a3a"},{"offset":0.1,"color":"#d33a3a"},{"offset":0.1,"color":"#fff"},{"offset":0.135,"color":"#fff"},{"offset":0.135,"color":"#d33a3a"},{"offset":0.15,"color":"#d33a3a"},{"offset":0.15,"color":"#fff"},{"offset":0.185,"color":"#fff"},{"offset":0.185,"color":"#d33a3a"},{"offset":0.2,"color":"#d33a3a"},{"offset":0.2,"color":"#fff"},{"offset":1,"color":"#fff"}]}}
           ]},
         "stroke": {"field": "label", "type": "nominal", "legend": null,
           "scale": {"domain": ["Sham + vehicle (ipsilateral)","Sham + vehicle (contralateral)","Sham + Box5 (ipsilateral)","Sham + Box5 (contralateral)","SNI + vehicle (ipsilateral)","SNI + vehicle (contralateral)","SNI + Box5 (ipsilateral)","SNI + Box5 (contralateral)"], "range": ["#d4a7a7","#d4a7a7","#e6bcbc","#ebc5c5","#a30000","#a30000","#cc2e2e","#d33a3a"]}}}},
      {"mark": {"type": "text", "align": "left", "baseline": "middle", "fontSize": 20, "color": "#222"},
       "encoding": {"x": {"datum": 38, "type": "quantitative"}, "text": {"field": "label"}}}
    ]
  }
],
"columns": 2,
"bounds": "flush",
"spacing": {"row": 68, "column": 82},
"resolve": {"scale": {"x": "independent", "y": "independent", "color": "independent", "fill": "independent", "stroke": "independent", "shape": "independent", "xOffset": "independent"}}
}
